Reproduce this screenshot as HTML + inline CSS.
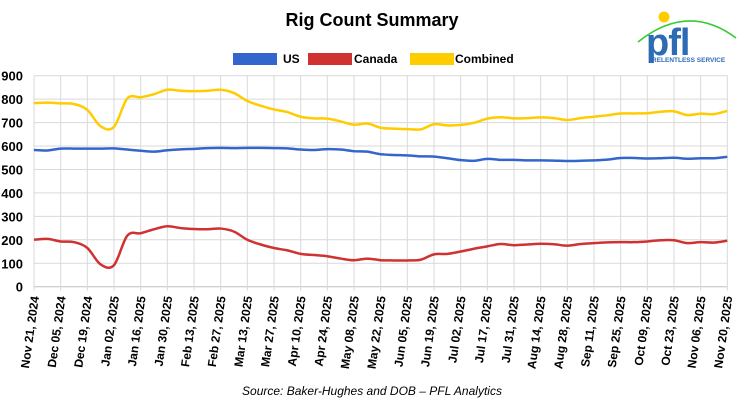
<!DOCTYPE html>
<html><head><meta charset="utf-8"><style>
body{margin:0;background:#fff;}
svg{display:block;font-family:"Liberation Sans",Arial,sans-serif;}
</style></head><body>
<svg id="s" width="745" height="400" viewBox="0 0 745 400">
<text x="372" y="26" text-anchor="middle" font-size="18" font-weight="bold" fill="#000">Rig Count Summary</text>
<rect x="233" y="53" width="44" height="12" fill="#3366cc"/><text x="283" y="63" font-size="12" font-weight="bold">US</text>
<rect x="308" y="53" width="44" height="12" fill="#d03232"/><text x="354" y="63" font-size="12" font-weight="bold">Canada</text>
<rect x="410" y="53" width="44" height="12" fill="#ffcc00"/><text x="455" y="63" font-size="12" font-weight="bold">Combined</text>
<!-- logo -->
<path d="M638 42 Q688 2 736 38" stroke="#33cc33" stroke-width="1.5" fill="none"/>
<circle cx="664" cy="17" r="5.5" fill="#ffcc00"/>
<text x="646" y="55" font-size="38" font-weight="bold" fill="#2d6bb5" letter-spacing="-1">pfl</text>
<text x="652" y="62" font-size="6.5" font-weight="bold" fill="#2d6bb5">RELENTLESS SERVICE</text>
<g id="grid"></g>
<g id="lines"></g>
<text x="372" y="395" text-anchor="middle" font-size="12" font-style="italic">Source: Baker-Hughes and DOB – PFL Analytics</text>
</svg>
<script>
const NS="http://www.w3.org/2000/svg";
const x0=34,x1=727.3,yb=286.7,yt=75.7;
const X=i=>x0+i*(x1-x0)/52, Y=v=>yb-v*(yb-yt)/900;
const g=document.getElementById('grid'),L=document.getElementById('lines');
function el(t,a,p,txt){const e=document.createElementNS(NS,t);for(const k in a)e.setAttribute(k,a[k]);if(txt)e.textContent=txt;p.appendChild(e);return e;}
for(let v=0;v<=900;v+=100){el('line',{x1:x0,x2:x1,y1:Y(v),y2:Y(v),stroke:v?'#d9d9d9':'#bfbfbf','stroke-width':1},g);
el('text',{x:23,y:Y(v)+5,'text-anchor':'end','font-size':13,'font-weight':'bold'},g,String(v));}
const labs=["Nov 21, 2024","Dec 05, 2024","Dec 19, 2024","Jan 02, 2025","Jan 16, 2025","Jan 30, 2025","Feb 13, 2025","Feb 27, 2025","Mar 13, 2025","Mar 27, 2025","Apr 10, 2025","Apr 24, 2025","May 08, 2025","May 22, 2025","Jun 05, 2025","Jun 19, 2025","Jul 02, 2025","Jul 17, 2025","Jul 31, 2025","Aug 14, 2025","Aug 28, 2025","Sep 11, 2025","Sep 25, 2025","Oct 09, 2025","Oct 23, 2025","Nov 06, 2025","Nov 20, 2025"];
labs.forEach((t,k)=>{const x=X(k*2);el('line',{x1:x,x2:x,y1:yt,y2:yb+4,stroke:'#d9d9d9','stroke-width':1},g);
el('text',{x:0,y:0,'text-anchor':'end','font-size':12,'font-weight':'bold',transform:`translate(${x+5},${yb+10}) rotate(-82)`},g,t);});
const ca=[200,204,193,190,165,95,92,218,228,245,258,250,246,245,248,235,200,180,165,155,140,135,130,120,113,120,113,112,112,115,138,140,150,162,172,182,177,180,183,181,175,182,186,189,190,190,193,198,198,186,190,188,196];
const us=[583,581,589,589,589,589,590,585,580,576,582,586,588,591,592,591,592,592,591,590,585,583,587,585,578,576,565,562,560,556,555,548,540,537,545,541,541,539,539,538,536,537,539,542,549,549,547,548,550,546,548,548,554];
const co=us.map((v,i)=>v+ca[i]);
function path(a){const p=a.map((v,i)=>[X(i),Y(v)]);let d=`M${p[0][0]},${p[0][1]}`;
for(let i=0;i<p.length-1;i++){const a0=p[i-1]||p[i],a1=p[i],a2=p[i+1],a3=p[i+2]||a2;
d+=` C${a1[0]+(a2[0]-a0[0])/6},${a1[1]+(a2[1]-a0[1])/6} ${a2[0]-(a3[0]-a1[0])/6},${a2[1]-(a3[1]-a1[1])/6} ${a2[0]},${a2[1]}`;}return d;}
[[co,'#ffcc00'],[us,'#3366cc'],[ca,'#d03232']].forEach(([a,c])=>el('path',{d:path(a),fill:'none',stroke:c,'stroke-width':2.5},L));
</script>
</body></html>
